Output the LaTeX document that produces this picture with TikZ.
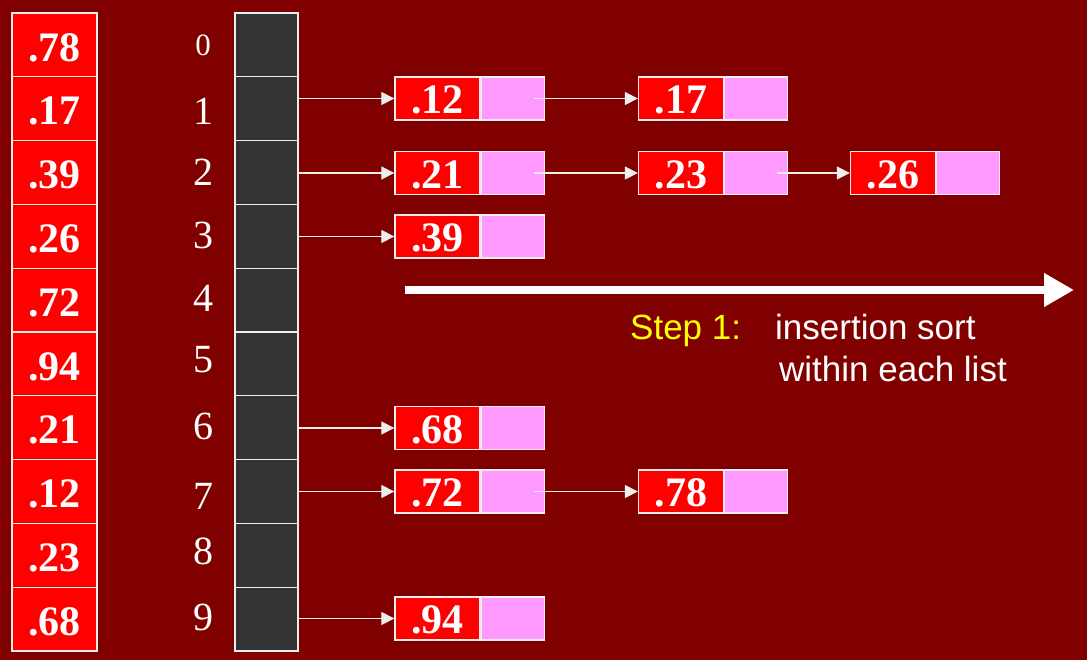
\documentclass[tikz,border=0pt]{standalone}
\usepackage{fontspec}
\setmainfont{Liberation Serif}
\newfontfamily\arialf{Liberation Sans}
\usetikzlibrary{arrows.meta}
\definecolor{bgred}{HTML}{800000}
\definecolor{cellred}{HTML}{FF0000}
\definecolor{pinkc}{HTML}{FF99FF}
\definecolor{bucketc}{HTML}{333333}
\definecolor{edgec}{HTML}{EEEEEE}
\definecolor{stepyellow}{HTML}{FFFF00}
\begin{document}
\begin{tikzpicture}[x=1pt,y=-1pt,
  cellbox/.style={draw=edgec, line width=1.3pt, fill=cellred, minimum width=85pt, minimum height=63.8pt, inner sep=0pt, text=white, text height=32.5pt, text depth=0pt, font=\fontsize{42}{42}\selectfont\bfseries},
  bucketbox/.style={draw=edgec, line width=1.3pt, fill=bucketc, minimum width=63pt, minimum height=63.8pt, inner sep=0pt},
  idxlabel/.style={text=white, inner sep=0pt, font=\fontsize{40}{40}\selectfont},
  valbox/.style={draw=edgec, line width=1.3pt, fill=cellred, minimum width=85pt, minimum height=43pt, inner sep=0pt, text=white, text height=30.5pt, text depth=0pt, font=\fontsize{42}{42}\selectfont\bfseries},
  ptrbox/.style={draw=edgec, line width=1.3pt, fill=pinkc, minimum width=63pt, minimum height=43pt, inner sep=0pt, anchor=west},
  link/.style={draw=edgec, line width=1.2pt, -{Triangle[length=13pt,width=13pt]}},
  steptext/.style={anchor=base west, inner sep=0pt, font=\arialf\fontsize{35}{35}\selectfont}
]
\fill[bgred] (0,0) rectangle (1087,660);
\useasboundingbox (0,0) rectangle (1087,660);

% input array
\foreach \v [count=\i from 0] in {.78,.17,.39,.26,.72,.94,.21,.12,.23,.68}
  \node[cellbox] (a\i) at (54.5,{13+63.8*(\i+0.5)}) {\v};

% bucket array
\foreach \i in {0,...,9}
  \node[bucketbox] (b\i) at (266.5,{13+63.8*(\i+0.5)}) {};

% index labels
\node[idxlabel, font=\fontsize{31}{31}\selectfont] (i0) at (203,45) {0};
\foreach \i/\y in {1/111,2/172,3/235,4/298,5/360,6/426,7/496,8/551,9/617}
  \node[idxlabel] (i\i) at (203,\y) {\i};

% list elements: name / x / y / value
\foreach \n/\x/\y/\v in {p1a/437.5/98.5/.12, p1b/681/98.5/.17,
                         p2a/437.5/173/.21, p2b/681/173/.23, p2c/893/173/.26,
                         p3a/437.5/236.5/.39,
                         p6a/437.5/428/.68,
                         p7a/437.5/491.5/.72, p7b/681/491.5/.78,
                         p9a/437.5/618.5/.94}{
  \node[valbox] (\n) at (\x,\y) {\v};
  \node[ptrbox] (\n p) at (\n.east) {};
}

% bucket pointers
\foreach \b/\n in {1/p1a,2/p2a,3/p3a,6/p6a,7/p7a,9/p9a}
  \draw[link] (b\b.east |- \n.west) -- (\n.west);

% next pointers
\foreach \s/\t in {p1a/p1b, p2a/p2b, p2b/p2c, p7a/p7b}
  \draw[link] ([xshift=-11pt]\s p.east) -- (\t.west);

% big arrow
\coordinate (bigs) at (405,290);
\coordinate (bige) at (1074,290);
\draw[white, line width=8pt, -{Triangle[length=30pt,width=32pt]}] (bigs) -- (bige);

% caption
\node[steptext, text=stepyellow] (st) at (630,340) {Step 1:};
\node[steptext, text=white] (s1) at (775,340) {insertion sort};
\node[steptext, text=white] (s2) at (779,381) {within each list};
\end{tikzpicture}
\end{document}
